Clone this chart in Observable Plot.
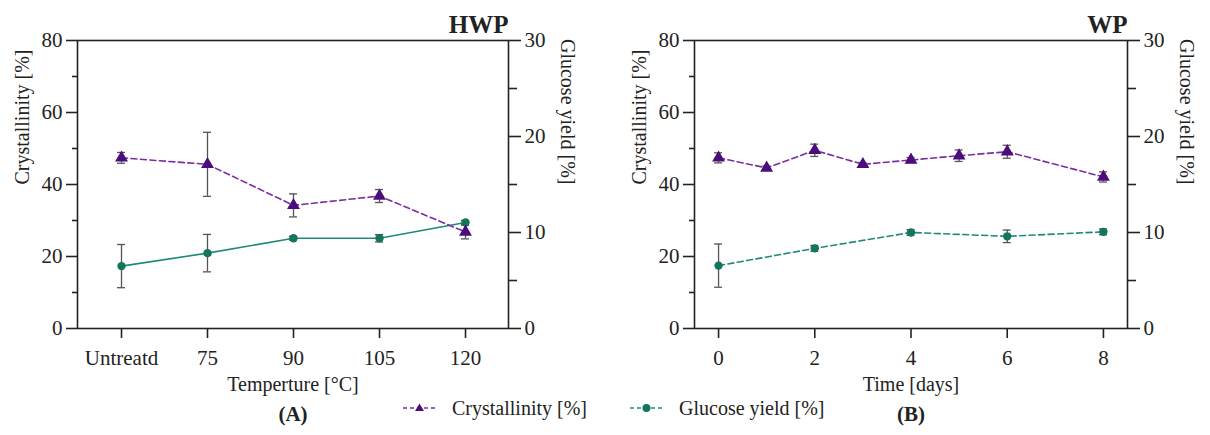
<!DOCTYPE html>
<html>
<head>
<meta charset="utf-8">
<script src="https://cdn.jsdelivr.net/npm/d3@7"></script>
<script src="https://cdn.jsdelivr.net/npm/@observablehq/plot@0.6"></script>
<style>
  html, body { margin: 0; padding: 0; background: #fff; }
  #wrap { position: relative; width: 1210px; height: 435px; font-family: "Liberation Serif", serif; color: #222; }
  #left, #right { position: absolute; top: 0; }
  #left { left: 0; }
  #right { left: 605px; }
  .leg { position: absolute; top: 396px; height: 24px; display: flex; align-items: center; font-size: 20px; }
  .leg svg { margin-right: 16px; }
</style>
</head>
<body>
<div id="wrap">
  <div id="left"></div>
  <div id="right"></div>
  <div class="leg" style="left:403px"><svg width="33" height="24"><line x1="0" x2="33" y1="12" y2="12" stroke="#7a2ea6" stroke-width="1.5" stroke-dasharray="4,3"/><path d="M16.5,7.5 L21,15 L12,15 Z" fill="#4b0c7c"/></svg><span>Crystallinity [%]</span></div>
  <div class="leg" style="left:630px"><svg width="33" height="24"><line x1="0" x2="33" y1="12" y2="12" stroke="#1f8a78" stroke-width="1.5" stroke-dasharray="4,3"/><circle cx="16.5" cy="12" r="4" fill="#14755f"/></svg><span>Glucose yield [%]</span></div>
</div>
<script>
// ---- data ----
const tempCats = ["Untreatd", "75", "90", "105", "120"];
const hwpCryst = [47.4, 45.6, 34.2, 36.8, 26.8];
const hwpCrystErr = [1.5, 8.9, 3.2, 1.8, 1.9];
const hwpGluc = [6.5, 7.85, 9.4, 9.4, 11.05];
const hwpGlucErr = [2.25, 1.95, 0.2, 0.38, 0.2];

const days = [0, 1, 2, 3, 4, 5, 6, 8];
const wpCryst = [47.4, 44.6, 49.5, 45.6, 46.8, 48.0, 49.1, 42.1];
const wpCrystErr = [1.4, 0.5, 1.7, 0.5, 0.7, 1.6, 1.8, 1.4];
const glucDays = [0, 2, 4, 6, 8];
const wpGluc = [6.55, 8.35, 10.0, 9.6, 10.07];
const wpGlucErr = [2.25, 0.3, 0.3, 0.65, 0.3];

const leftTicks = [0, 20, 40, 60, 80];
const leftMinor = [10, 30, 50, 70];
const rightTicks = [0, 10, 20, 30];
const rightMinor = [5, 15, 25];
const dayTicks = [0, 2, 4, 6, 8];

const K = 80 / 30; // glucose (right axis) -> crystallinity (left axis) units
const PURPLE_LINE = "#7a2ea6", PURPLE_DOT = "#4b0c7c";
const GREEN_LINE = "#1f8a78", GREEN_DOT = "#14755f";
const INK = "#222";

function panel({xScale, xTicks, cryst, gluc, glucDash, title, xlabel, sub, ml, mr}) {
  const errMarks = (data, f) => [
    Plot.ruleX(data, {x: "x", y1: d => f(d.v - d.e), y2: d => f(d.v + d.e), stroke: "#555", strokeWidth: 1.3}),
    Plot.ruleY(data, {x1: "x", x2: "x", y: d => f(d.v + d.e), insetLeft: -4, insetRight: -4, stroke: "#555", strokeWidth: 1.3}),
    Plot.ruleY(data, {x1: "x", x2: "x", y: d => f(d.v - d.e), insetLeft: -4, insetRight: -4, stroke: "#555", strokeWidth: 1.3})
  ];
  const id = v => v, g = v => v * K;
  return Plot.plot({
    width: 605, height: 435,
    marginLeft: ml, marginRight: mr, marginTop: 40, marginBottom: 107,
    style: {fontFamily: "Liberation Serif, serif", fontSize: "21px", color: INK, background: "white", overflow: "visible"},
    x: xScale,
    y: {domain: [0, 80]},
    marks: [
      Plot.frame({stroke: INK, strokeWidth: 1.6}),
      Plot.axisY({ticks: leftTicks, tickSize: 11, tickPadding: 4, label: null, strokeWidth: 1.6, fontSize: 21}),
      Plot.axisY({ticks: leftMinor, tickSize: 5, tickFormat: () => "", label: null, strokeWidth: 1.6}),
      Plot.axisY({anchor: "right", ticks: rightTicks.map(g), tickFormat: d => String(Math.round(d / K)), tickSize: 12, tickPadding: 4, label: null, strokeWidth: 1.6, fontSize: 21}),
      Plot.axisY({anchor: "right", ticks: rightMinor.map(g), tickSize: 8, tickFormat: () => "", label: null, strokeWidth: 1.6}),
      Plot.axisX({ticks: xTicks, tickSize: 10, tickPadding: 12, label: null, strokeWidth: 1.6, fontSize: 21}),
      Plot.line(gluc, {x: "x", y: d => g(d.v), stroke: GREEN_LINE, strokeWidth: 1.6, strokeDasharray: glucDash ? "6,3.5" : null}),
      Plot.line(cryst, {x: "x", y: "v", stroke: PURPLE_LINE, strokeWidth: 1.6, strokeDasharray: "6,3.5"}),
      ...errMarks(cryst, id),
      ...errMarks(gluc, g),
      Plot.dot(gluc, {x: "x", y: d => g(d.v), r: 4.2, fill: GREEN_DOT, stroke: null}),
      Plot.dot(cryst, {x: "x", y: "v", symbol: "triangle", r: 4.8, fill: PURPLE_DOT, stroke: null}),
      Plot.text([title], {frameAnchor: "top-right", textAnchor: "end", lineAnchor: "bottom", dy: -8, fontSize: 25, fontWeight: "bold", fill: INK}),
      Plot.text([xlabel], {frameAnchor: "bottom", lineAnchor: "bottom", dy: 62, fontSize: 20, fill: INK}),
      Plot.text([sub], {frameAnchor: "bottom", lineAnchor: "bottom", dy: 92, fontSize: 21, fontWeight: "bold", fill: INK}),
      Plot.text(["Crystallinity [%]"], {frameAnchor: "left", rotate: -90, dx: -55, fontSize: 20, fill: INK}),
      Plot.text(["Glucose yield [%]"], {frameAnchor: "right", rotate: 90, dx: 59, fontSize: 20, fill: INK})
    ]
  });
}

const hwpC = tempCats.map((c, i) => ({x: c, v: hwpCryst[i], e: hwpCrystErr[i]}));
const hwpG = tempCats.map((c, i) => ({x: c, v: hwpGluc[i], e: hwpGlucErr[i]}));
const wpC = days.map((d, i) => ({x: d, v: wpCryst[i], e: wpCrystErr[i]}));
const wpG = glucDays.map((d, i) => ({x: d, v: wpGluc[i], e: wpGlucErr[i]}));

document.getElementById("left").append(panel({
  xScale: {type: "point", domain: tempCats, padding: 0.5},
  xTicks: tempCats, cryst: hwpC, gluc: hwpG, glucDash: false,
  title: "HWP", xlabel: "Temperture [°C]", sub: "(A)", ml: 77, mr: 97
}));
document.getElementById("right").append(panel({
  xScale: {type: "linear", domain: [-0.5, 8.5]},
  xTicks: dayTicks, cryst: wpC, gluc: wpG, glucDash: true,
  title: "WP", xlabel: "Time [days]", sub: "(B)", ml: 89, mr: 83
}));
</script>
</body>
</html>
